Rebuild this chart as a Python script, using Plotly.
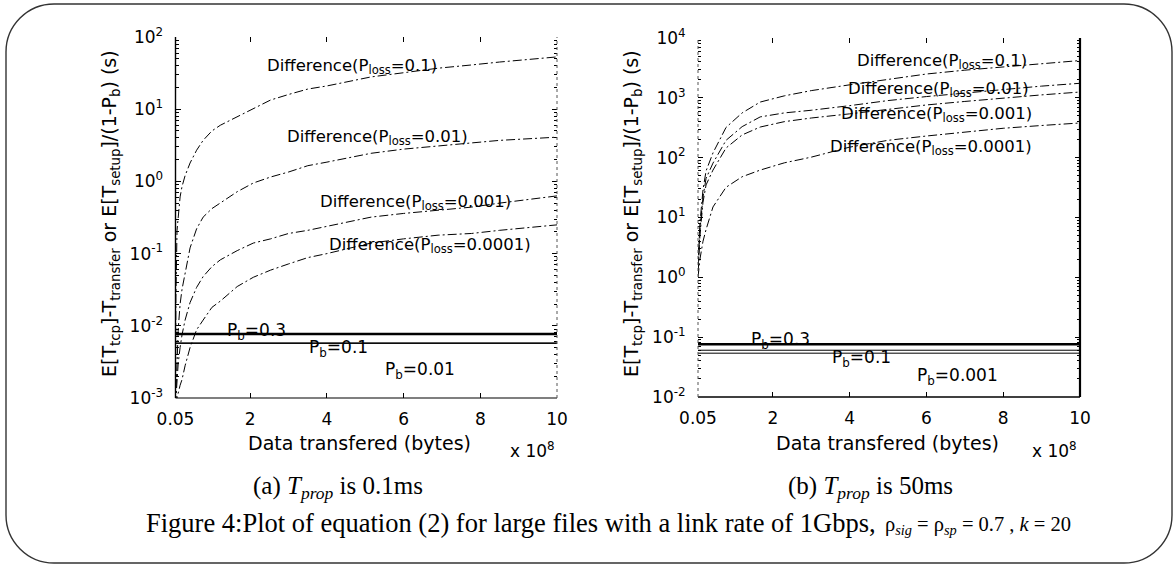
import plotly.graph_objects as go

W, H = 1174, 565

# ---------------- data ----------------
# x in units of 1e8 bytes
x_left = [0.05, 0.06, 0.09, 0.12, 0.17, 0.22, 0.3, 0.43, 0.6, 0.77, 1.0, 1.22,
          1.66, 2.08, 2.53, 3.0, 3.5, 4.0, 5.15, 6.0, 6.9, 7.77, 8.5, 10]
left_p01 = [0.0008, 0.025, 0.21, 0.35, 0.61, 0.85, 1.2, 1.8, 2.7, 3.7, 5.0, 6.0,
            7.8, 10, 13.4, 16, 19, 21, 28, 32, 37, 41, 45, 53]
left_p001 = [0.0008, 0.0015, 0.003, 0.0088, 0.02, 0.032, 0.055, 0.12, 0.22, 0.32, 0.42, 0.5,
             0.72, 0.95, 1.15, 1.35, 1.65, 1.85, 2.45, 2.8, 3.1, 3.45, 3.7, 4.1]
left_p0001 = [0.0008, 0.001, 0.0015, 0.003, 0.005, 0.0075, 0.012, 0.021, 0.034, 0.048, 0.066, 0.082,
              0.11, 0.14, 0.16, 0.19, 0.21, 0.24, 0.32, 0.36, 0.40, 0.44, 0.5, 0.63]
left_p00001 = [0.0008, 0.0008, 0.001, 0.0012, 0.0015, 0.0018, 0.0028, 0.005, 0.0088, 0.012, 0.018, 0.022,
               0.035, 0.047, 0.059, 0.072, 0.088, 0.1, 0.14, 0.16, 0.18, 0.19, 0.21, 0.25]
left_pb = {"0.3": 0.0077, "0.1": 0.0058, "0.01": 0.0057}

x_right = [0.05, 0.1, 0.18, 0.26, 0.44, 0.78, 1.2, 1.67, 2.3, 3, 4, 5, 6, 7, 8, 9, 10]
right_p01 = [1.5, 8, 29, 60, 120, 320, 560, 850, 1080, 1320, 1650, 2050, 2500, 2900, 3300, 3750, 4200]
right_p001 = [1.3, 6, 22, 45, 81, 195, 330, 480, 560, 620, 740, 900, 1050, 1200, 1400, 1570, 1750]
right_p0001 = [1.2, 5, 18, 35, 62, 145, 240, 325, 400, 460, 540, 650, 760, 870, 1000, 1120, 1250]
right_p00001 = [1.0, 2, 4, 6.3, 15, 32, 48, 62, 82, 102, 150, 195, 230, 270, 310, 345, 380]
right_pb = {"0.3": 0.076, "0.1": 0.0605, "0.001": 0.054}

x_ticks = [0.05, 2, 4, 6, 8, 10]
x_ticktext = ["0.05", "2", "4", "6", "8", "10"]
left_yexp = [-3, -2, -1, 0, 1, 2]
right_yexp = [-2, -1, 0, 1, 2, 3, 4]

# ---------------- helpers ----------------
def X(px):
    return px / W

def Y(py):
    return 1 - py / H

SANS = "DejaVu Sans"
SERIF = "Liberation Serif"
DASH = "9px,3px,2px,3px"

fig = go.Figure()

def add_curves(xs, series, xa, ya):
    for ys in series:
        fig.add_trace(go.Scatter(x=xs, y=ys, mode="lines", xaxis=xa, yaxis=ya,
                                 line=dict(color="black", width=1, dash=DASH),
                                 showlegend=False, hoverinfo="skip"))

def add_hlines(pb, xa, ya):
    for i, (k, v) in enumerate(pb.items()):
        fig.add_trace(go.Scatter(x=[x_ticks[0], x_ticks[-1]], y=[v, v], mode="lines",
                                 xaxis=xa, yaxis=ya,
                                 line=dict(color="black", width=2.6 if i == 0 else 1),
                                 showlegend=False, hoverinfo="skip"))

add_curves(x_left, [left_p01, left_p001, left_p0001, left_p00001], "x", "y")
add_hlines(left_pb, "x", "y")
add_curves(x_right, [right_p01, right_p001, right_p0001, right_p00001], "x2", "y2")
add_hlines(right_pb, "x2", "y2")

def yticks(exps):
    vals = [10.0 ** e for e in exps]
    txt = [f"10<sup>{e}</sup>" for e in exps]
    minor = [m * 10.0 ** e for e in exps[:-1] for m in range(2, 10)]
    return vals, txt, minor

tick_font = dict(family=SANS, size=17, color="black")
CLEAR = "rgba(0,0,0,0)"
xcommon = dict(range=[x_ticks[0], x_ticks[-1]], tickmode="array", tickvals=x_ticks,
               ticktext=x_ticktext, ticks="inside", ticklen=5, tickcolor="black",
               showgrid=False, zeroline=False, showline=True, linecolor=CLEAR,
               mirror="ticks", tickfont=tick_font, ticklabelstandoff=6, automargin=False)

lv, lt, lm = yticks(left_yexp)
rv, rt, rm = yticks(right_yexp)

def ycommon(vals, txt, minor, exps):
    return dict(type="log", range=[exps[0], exps[-1]], tickmode="array", tickvals=vals,
                ticktext=txt, ticks="inside", ticklen=5, tickcolor="black",
                showgrid=False, zeroline=False, showline=True, linecolor=CLEAR,
                mirror="ticks", tickfont=tick_font, ticklabelstandoff=8, automargin=False,
                minor=dict(tickmode="array", tickvals=minor, ticks="inside", ticklen=3,
                           tickcolor="black", showgrid=False))

fig.update_layout(
    width=W, height=H, margin=dict(l=0, r=0, t=0, b=0, pad=0, autoexpand=False),
    paper_bgcolor="white", plot_bgcolor="white",
    xaxis=dict(domain=[X(175.5), X(557)], anchor="y", **xcommon),
    yaxis=dict(domain=[Y(398), Y(37)], anchor="x", **ycommon(lv, lt, lm, left_yexp)),
    xaxis2=dict(domain=[X(698), X(1080)], anchor="y2", **xcommon),
    yaxis2=dict(domain=[Y(397), Y(38)], anchor="x2", **ycommon(rv, rt, rm, right_yexp)),
)

# axis lines
def axline(xref, yref, x0, y0, x1, y1, width=1.2, dash="solid", color="black"):
    fig.add_shape(type="line", xref=xref, yref=yref, x0=x0, y0=y0, x1=x1, y1=y1,
                  line=dict(color=color, width=width, dash=dash))

axline("x domain", "y domain", 0, 0, 1, 0)
axline("x domain", "y domain", 0, 0, 0, 1, width=1.4)
axline("x domain", "y domain", 1, 0, 1, 1, width=1, dash="3px,3px", color="#555555")
axline("x2 domain", "y2 domain", 0, 0, 1, 0, width=1.4)
axline("x2 domain", "y2 domain", 0, 0, 0, 1, width=1, dash="3px,3px", color="#555555")
axline("x2 domain", "y2 domain", 1, 0, 1, 1, width=2.2)

# rounded frame
x0, x1, y0, y1, r = 6, 1172, 4, 563, 48
k = 0.5523 * r
def p(px, py):
    return f"{X(px):.5f},{Y(py):.5f}"
path = (f"M {p(x0 + r, y0)} L {p(x1 - r, y0)} "
        f"C {p(x1 - r + k, y0)} {p(x1, y0 + r - k)} {p(x1, y0 + r)} "
        f"L {p(x1, y1 - r)} "
        f"C {p(x1, y1 - r + k)} {p(x1 - r + k, y1)} {p(x1 - r, y1)} "
        f"L {p(x0 + r, y1)} "
        f"C {p(x0 + r - k, y1)} {p(x0, y1 - r + k)} {p(x0, y1 - r)} "
        f"L {p(x0, y0 + r)} "
        f"C {p(x0, y0 + r - k)} {p(x0 + r - k, y0)} {p(x0 + r, y0)} Z")
fig.add_shape(type="path", xref="paper", yref="paper", path=path,
              line=dict(color="#333333", width=1.4))

def ann(text, px, py, size=16.5, family=SANS, xanchor="left", yanchor="middle", angle=0):
    fig.add_annotation(text=text, x=X(px), y=Y(py), xref="paper", yref="paper",
                       xanchor=xanchor, yanchor=yanchor, showarrow=False, textangle=angle,
                       font=dict(family=family, size=size, color="black"))

# curve labels - left
ann("Difference(P<sub>loss</sub>=0.1)", 265, 67)
ann("Difference(P<sub>loss</sub>=0.01)", 285, 137)
ann("Difference(P<sub>loss</sub>=0.001)", 318, 202)
ann("Difference(P<sub>loss</sub>=0.0001)", 327, 245)
ann("P<sub>b</sub>=0.3", 225, 331, size=17)
ann("P<sub>b</sub>=0.1", 307, 348, size=17)
ann("P<sub>b</sub>=0.01", 383, 370, size=17)
# curve labels - right
ann("Difference(P<sub>loss</sub>=0.1)", 855, 62)
ann("Difference(P<sub>loss</sub>=0.01)", 846, 89)
ann("Difference(P<sub>loss</sub>=0.001)", 839, 114)
ann("Difference(P<sub>loss</sub>=0.0001)", 828, 147)
ann("P<sub>b</sub>=0.3", 749, 340, size=17)
ann("P<sub>b</sub>=0.1", 830, 358, size=17)
ann("P<sub>b</sub>=0.001", 915, 377, size=17)

# axis titles
ytitle = ("E[T<sub>tcp</sub>]-T<sub>transfer</sub> or E[T<sub>setup</sub>]/(1-P<sub>b</sub>) (s)")
ann(ytitle, 111, 214, size=19, xanchor="center", angle=-90)
ann(ytitle, 633, 214, size=19, xanchor="center", angle=-90)
ann("Data transfered (bytes)", 359, 443, size=19, xanchor="center")
ann("Data transfered (bytes)", 887, 443, size=19, xanchor="center")
ann("x 10<sup>8</sup>", 508, 450, size=17)
ann("x 10<sup>8</sup>", 1030, 450, size=17)

# captions
ann("(a) <i>T<sub>prop</sub></i> is 0.1ms", 338, 487, size=25, family=SERIF, xanchor="center")
ann("(b) <i>T<sub>prop</sub></i> is 50ms", 870, 487, size=25, family=SERIF, xanchor="center")
ann("Figure 4:Plot of equation (2) for large files with a link rate of 1Gbps,",
    878, 523, size=26.5, family=SERIF, xanchor="right")
ann("ρ<sub><i>sig</i></sub> = ρ<sub><i>sp</i></sub> = 0.7 , <i>k</i> = 20",
    883, 525, size=20.5, family=SERIF, xanchor="left")

fig.write_html("out.html")
